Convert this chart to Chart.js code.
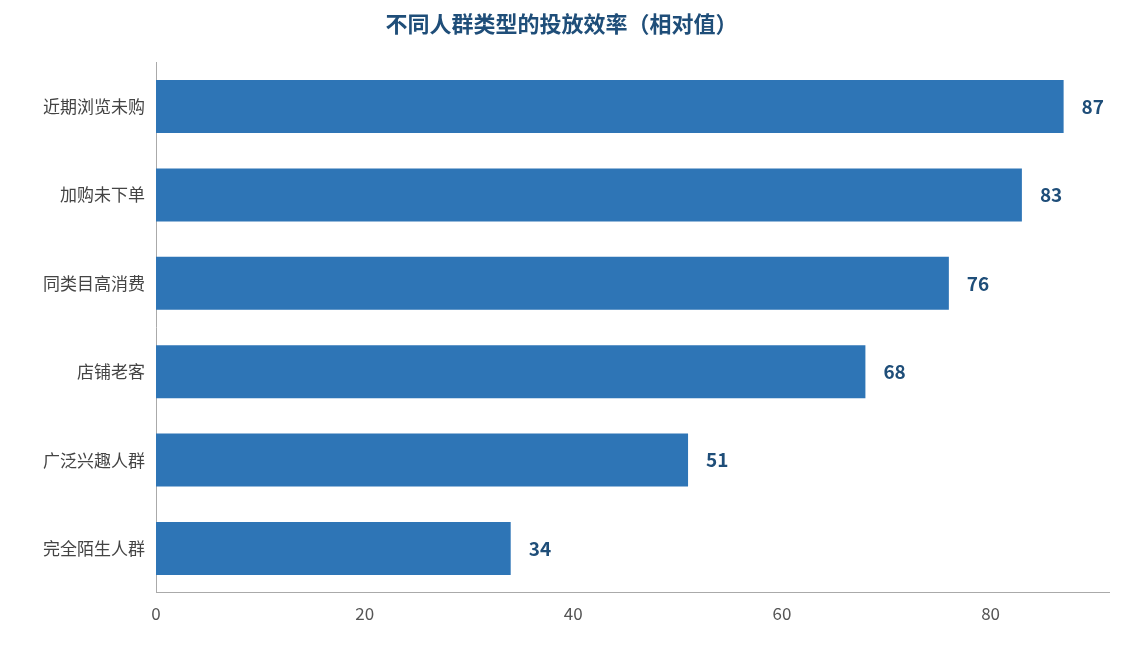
<!DOCTYPE html>
<html><head><meta charset="utf-8">
<script src="https://cdn.jsdelivr.net/npm/chart.js@4"></script>
<style>html,body{margin:0;padding:0;background:#fff}#w{width:1124px;height:645px}</style>
</head><body><div id="w"><canvas id="c"></canvas></div>
<script>
const categories=["近期浏览未购","加购未下单","同类目高消费","店铺老客","广泛兴趣人群","完全陌生人群"];
const values=[87,83,76,68,51,34];
const xTicks=[0,20,40,60,80];
const font="'Noto Sans CJK SC','Noto Sans',sans-serif";
const labelPlugin={id:'lbl',afterDatasetsDraw(ch){
  const ctx=ch.ctx,meta=ch.getDatasetMeta(0);
  ctx.save();ctx.font="bold 19px "+font;ctx.fillStyle="#1f4e79";ctx.textBaseline="middle";
  meta.data.forEach((b,i)=>{ctx.fillText(String(values[i]),b.x+18,b.y);});
  ctx.restore();}};
new Chart(document.getElementById('c'),{type:'bar',
data:{labels:categories,datasets:[{data:values,backgroundColor:'#2e75b6',categoryPercentage:1,barPercentage:0.6}]},
options:{indexAxis:'y',responsive:true,maintainAspectRatio:false,animation:false,
layout:{padding:{left:14,right:15,top:0,bottom:18}},
plugins:{legend:{display:false},tooltip:{enabled:false},
title:{display:true,text:'不同人群类型的投放效率（相对值）',color:'#1f4e79',font:{family:font,size:22,weight:'bold'},padding:{top:10,bottom:26}}},
scales:{x:{min:0,max:91.35,afterBuildTicks(s){s.ticks=xTicks.map(v=>({value:v}));},ticks:{color:'#555',font:{family:font,size:17}},grid:{display:false},border:{color:'#aaa'}},
y:{afterFit(s){s.width=142;},ticks:{color:'#444',font:{family:font,size:17}},grid:{display:false},border:{color:'#aaa'}}}},
plugins:[labelPlugin]});
</script></body></html>
